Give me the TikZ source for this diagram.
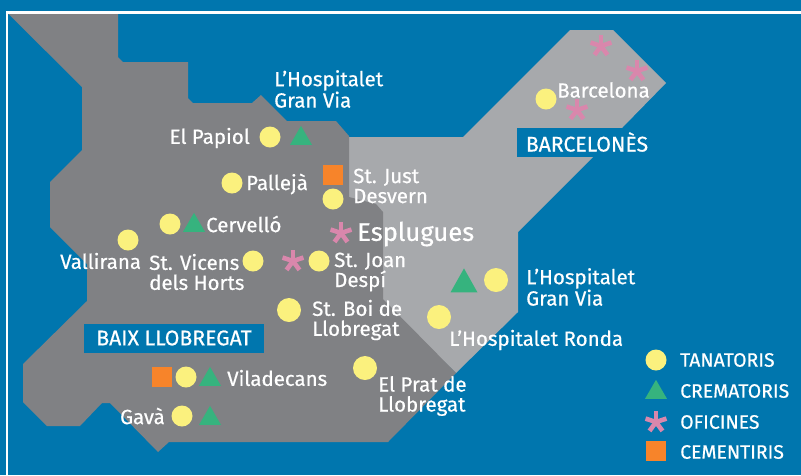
\documentclass[tikz,border=0pt]{standalone}
\usepackage{fontspec}
\usetikzlibrary{shapes.geometric}
\setmainfont{Fira Sans}[FakeBold=0.5]
\definecolor{bgblue}{HTML}{0076AE}
\definecolor{darkgrey}{HTML}{808184}
\definecolor{lightgrey}{HTML}{A7A9AC}
\definecolor{tanat}{HTML}{FBF17E}
\definecolor{cremat}{HTML}{36B37E}
\definecolor{ofic}{HTML}{D987AC}
\definecolor{cement}{HTML}{F7842A}
\tikzset{
 tanatdot/.style={circle,fill=tanat,inner sep=0pt,minimum size=21pt},
 tanatbig/.style={circle,fill=tanat,inner sep=0pt,minimum size=24pt},
 crem/.style={isosceles triangle,isosceles triangle apex angle=70,shape border rotate=90,fill=cremat,inner sep=0pt,minimum height=19pt,isosceles triangle stretches,minimum width=22pt,yshift=-2.5pt},
 cembox/.style={rectangle,fill=cement,inner sep=0pt,minimum size=20pt},
 lbl/.style={text=white,font=\fontsize{20.5}{20}\selectfont,inner sep=0pt,align=left,anchor=west},
 leg/.style={text=white,font=\fontsize{19.4}{20}\selectfont,inner sep=0pt,anchor=west},
 region/.style={fill=bgblue,text=white,font=\fontsize{21.2}{22}\selectfont,inner sep=0pt,align=center},
 pics/ofstar/.style={code={\foreach \a in {90,162,234,306,18}{\draw[ofic,line width=4.6pt] (0,0)--(\a:11pt);}}}
}
\begin{document}
\begin{tikzpicture}[x=1pt,y=-1pt]
\useasboundingbox (0,0) rectangle (801,475);
\fill[bgblue] (0,0) rectangle (801,475);
\draw[white,line width=2.5pt] (801,12.5)--(7,12.5)--(7,475);
\fill[lightgrey] (340,137)--(463,137)--(570,30)--(613,30)--(666,83)--(622,128)--(593,157)--(518,232)--(518,312)--(456,373)--(380,300)--(340,200)--cycle;
\fill[darkgrey] (8.5,14)--(118,14)--(118,57)--(123,62)--(188,62)--(188,98)--(193,103)--(252,103)--(261,95)--(287,121)--(336,121)--(349,136)--(349,197)--(376,204)--(383,212)--(383,299)--(456,373)--(388,442)--(169,442)--(158,452)--(110,403)--(102,403)--(80,426)--(47,426)--(23,402)--(23,364)--(87,301)--(87,264)--(50,227)--(50,182)--(82,150)--(82,87)--cycle;
\node[region,minimum width=180pt,minimum height=29pt,xshift=1pt] (baix) at (173,338) {BAIX LLOBREGAT};
\node[region,minimum width=141pt,minimum height=29pt] (bcnes) at (587,142) {BARCELONÈS};
\node[tanatdot] (papiolc) at (270,137) {};
\node[crem] (papiolt) at (301,136) {};
\node[lbl,anchor=east] (papiol) at (250,138) {El Papiol};
\node[lbl] (hgv1) at (274,89) {L’Hospitalet\\Gran Via};
\node[tanatdot] (pallejac) at (232,183) {};
\node[lbl] (palleja) at (246,184) {Pallejà};
\node[cembox] (justs) at (333,175) {};
\node[tanatdot] (justc) at (333,199) {};
\node[lbl] (just) at (353,186) {St. Just\\Desvern};
\node[tanatdot] (cervc) at (170,224) {};
\node[crem] (cervt) at (194,223) {};
\node[lbl] (cerv) at (206,224) {Cervelló};
\node[tanatdot] (vallc) at (128,240) {};
\node[lbl] (vall) at (60,261) {Vallirana};
\node[lbl] (vic) at (149,272) {St. Vicens\\dels Horts};
\node[tanatdot] (vicc) at (253,261) {};
\path (293,261) pic {ofstar};
\node[tanatdot] (joanc) at (319,261) {};
\node[lbl] (joan) at (334,272) {St. Joan\\Despí};
\path (341,233) pic {ofstar};
\node[lbl,font=\fontsize{25.6}{26}\selectfont] (esp) at (357,234) {Esplugues};
\node[tanatbig] (boic) at (289,310) {};
\node[lbl] (boi) at (312,320) {St. Boi de\\Llobregat};
\node[tanatbig] (pratc) at (365,368) {};
\node[lbl] (prat) at (378,396) {El Prat de\\Llobregat};
\node[cembox] (vilas) at (162,377) {};
\node[tanatdot] (vilac) at (186,377) {};
\node[crem] (vilat) at (210,377) {};
\node[lbl] (vila) at (227,378) {Viladecans};
\node[lbl,anchor=east] (gava) at (165,416) {Gavà};
\node[tanatdot] (gavac) at (182,416) {};
\node[crem] (gavat) at (210,416) {};
\node[crem,minimum width=27pt,minimum height=24pt,yshift=-1pt] (hgvt) at (464,281) {};
\node[tanatbig] (hgvc) at (496,280) {};
\node[lbl] (hgv2) at (526,287) {L’Hospitalet\\Gran Via};
\node[tanatbig] (rondac) at (439,317) {};
\node[lbl] (ronda) at (449,340) {L’Hospitalet Ronda};
\path (601,46) pic {ofstar};
\path (637,71) pic {ofstar};
\path (577,110) pic {ofstar};
\node[tanatdot] (bcnc) at (546,99) {};
\node[lbl] (bcn) at (557,90) {Barcelona};
\node[tanatdot] (l1) at (656,360) {};
\node[crem] (l2) at (656,390) {};
\path (656,422) pic {ofstar};
\node[cembox] (l4) at (656,451) {};
\node[leg] (t1) at (680,360) {TANATORIS};
\node[leg] (t2) at (680,391) {CREMATORIS};
\node[leg] (t3) at (680,422) {OFICINES};
\node[leg] (t4) at (680,452) {CEMENTIRIS};
\end{tikzpicture}
\end{document}
